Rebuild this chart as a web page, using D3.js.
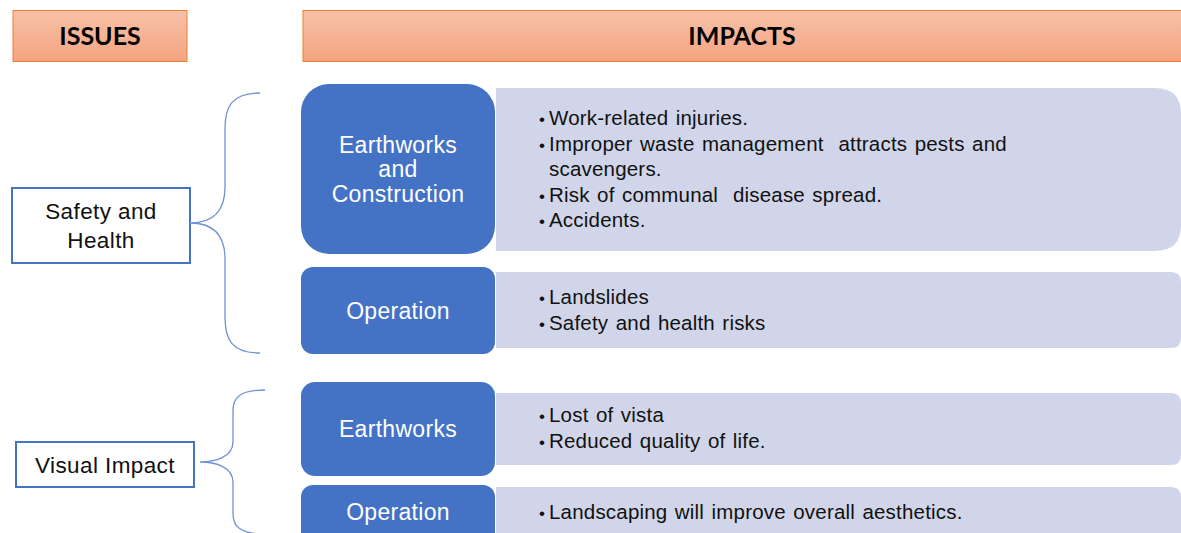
<!DOCTYPE html>
<html>
<head>
<meta charset="utf-8">
<script src="https://cdn.jsdelivr.net/npm/d3@7"></script>
<style>
  body { margin: 0; background: #fff; }
  svg { display: block; }
</style>
</head>
<body>
<svg class="chart"></svg>
<script>
// data
var headers = ["ISSUES", "IMPACTS"];
var issues = [["Safety and", "Health"], ["Visual Impact"]];
var stages = [
  ["Earthworks", "and", "Construction"],
  ["Operation"],
  ["Earthworks"],
  ["Operation"]
];
var impacts = [
  [["Work-related injuries."],
   ["Improper waste management  attracts pests and", "scavengers."],
   ["Risk of communal  disease spread."],
   ["Accidents."]],
  [["Landslides"], ["Safety and health risks"]],
  [["Lost of vista"], ["Reduced quality of life."]],
  [["Landscaping will improve overall aesthetics."]]
];

// layout (positions kept apart from the data)
var width = 1181, height = 533;
var rowBox   = [[84, 254], [267, 354], [382, 476], [485, 580]];   // blue boxes
var rowPanel = [[88, 251], [272, 348], [393, 465], [487, 580]];   // light panels
var boxR   = [28, 12, 14, 12];
var panelR = [26, 10, 10, 10];
var issueBox = [[12, 188, 190, 263], [16, 442, 194, 487]];
var braces = [
  {x0: 260, top: 93, bottom: 353, xv: 225, xm: 190},
  {x0: 265, top: 390, bottom: 534, xv: 233, xm: 200}
];
var font = "'Liberation Sans', Arial, sans-serif";

var svg = d3.select("svg.chart")
            .attr("width", width)
            .attr("height", height);

var defs = svg.append("defs");
var grad = defs.append("linearGradient")
               .attr("id", "hdr")
               .attr("x1", 0).attr("y1", 0).attr("x2", 0).attr("y2", 1);
grad.append("stop").attr("offset", "0%").attr("stop-color", "#F8C1A7");
grad.append("stop").attr("offset", "100%").attr("stop-color", "#F4A481");

// header bars
var hdrX = [[13, 187], [303, 1190]];
var hdr = svg.selectAll("g.hdr")
   .data(headers)
   .enter()
   .append("g")
   .classed("hdr", true);
hdr.append("rect")
   .attr("x", function(d, i){ return hdrX[i][0]; })
   .attr("y", 10.5)
   .attr("width", function(d, i){ return hdrX[i][1] - hdrX[i][0]; })
   .attr("height", 51)
   .attr("fill", "url(#hdr)")
   .attr("stroke", "#ED7D31")
   .attr("stroke-width", 1);
hdr.append("text")
   .text(function(d){ return d; })
   .attr("x", function(d, i){ return i == 0 ? (hdrX[0][0] + hdrX[0][1]) / 2 : 742; })
   .attr("y", 45)
   .attr("text-anchor", "middle")
   .attr("font-family", "Lato, 'Liberation Sans', sans-serif")
   .attr("font-weight", "bold")
   .attr("font-size", 25)
   .attr("fill", "#000");

// light panels with rounded right corners
function panelPath(x0, x1, y0, y1, r){
  return "M" + x0 + "," + y0 +
         "H" + (x1 - r) +
         "Q" + x1 + "," + y0 + " " + x1 + "," + (y0 + r) +
         "V" + (y1 - r) +
         "Q" + x1 + "," + y1 + " " + (x1 - r) + "," + y1 +
         "H" + x0 + "Z";
}
svg.selectAll("path.panel")
   .data(impacts)
   .enter()
   .append("path")
   .classed("panel", true)
   .attr("d", function(d, i){
     return panelPath(496, 1181, rowPanel[i][0], rowPanel[i][1], panelR[i]);
   })
   .attr("fill", "#D0D5E9");

// blue stage boxes
var st = svg.selectAll("g.stage")
   .data(stages)
   .enter()
   .append("g")
   .classed("stage", true);
st.append("rect")
   .attr("x", 301)
   .attr("y", function(d, i){ return rowBox[i][0]; })
   .attr("width", 194)
   .attr("height", function(d, i){ return rowBox[i][1] - rowBox[i][0]; })
   .attr("rx", function(d, i){ return boxR[i]; })
   .attr("fill", "#4472C4");
st.each(function(lines, i){
  var cy = i == 3 ? 512 : (rowBox[i][0] + rowBox[i][1]) / 2;
  var lh = 24.5;
  d3.select(this).selectAll("text")
    .data(lines)
    .enter()
    .append("text")
    .text(function(d){ return d; })
    .attr("x", 398)
    .attr("y", function(d, j){ return cy + (j - (lines.length - 1) / 2) * lh + 8; })
    .attr("text-anchor", "middle")
    .attr("font-family", font)
    .attr("font-size", 23)
    .attr("letter-spacing", 0.3)
    .attr("fill", "#fff");
});

// bullet lists
var bl = svg.selectAll("g.bullets")
   .data(impacts)
   .enter()
   .append("g")
   .classed("bullets", true);
var firstLine = [125, 304, 422, 519];
var lineH = 25.5;
bl.each(function(items, i){
  var g = d3.select(this);
  var y = firstLine[i];
  items.forEach(function(item){
    g.append("text")
     .text("\u2022")
     .attr("x", 539)
     .attr("y", y)
     .attr("font-family", font)
     .attr("font-size", 17)
     .attr("fill", "#111");
    item.forEach(function(line){
      g.append("text")
       .text(line)
       .attr("x", 549)
       .attr("y", y)
       .style("white-space", "pre")
       .attr("font-family", font)
       .attr("font-size", 20.5)
       .attr("letter-spacing", 0.2)
       .attr("word-spacing", 1.5)
       .attr("fill", "#111");
      y += lineH;
    });
  });
});

// issue boxes
var is = svg.selectAll("g.issue")
   .data(issues)
   .enter()
   .append("g")
   .classed("issue", true);
is.append("rect")
   .attr("x", function(d, i){ return issueBox[i][0]; })
   .attr("y", function(d, i){ return issueBox[i][1]; })
   .attr("width", function(d, i){ return issueBox[i][2] - issueBox[i][0]; })
   .attr("height", function(d, i){ return issueBox[i][3] - issueBox[i][1]; })
   .attr("fill", "#fff")
   .attr("stroke", "#4472C4")
   .attr("stroke-width", 2);
is.each(function(lines, i){
  var b = issueBox[i];
  var cx = (b[0] + b[2]) / 2, cy = (b[1] + b[3]) / 2;
  d3.select(this).selectAll("text")
    .data(lines)
    .enter()
    .append("text")
    .text(function(d){ return d; })
    .attr("x", cx)
    .attr("y", function(d, j){ return cy + (j - (lines.length - 1) / 2) * 29 + 8; })
    .attr("text-anchor", "middle")
    .attr("font-family", font)
    .attr("font-size", 22.5)
    .attr("letter-spacing", 0.4)
    .attr("fill", "#111");
});

// curly braces
svg.selectAll("path.brace")
   .data(braces)
   .enter()
   .append("path")
   .classed("brace", true)
   .attr("d", function(b){
     var mid = (b.top + b.bottom) / 2;
     var k = Math.min(36, (mid - b.top) / 3.5);
     var p = d3.path();
     p.moveTo(b.x0, b.top);
     p.bezierCurveTo(b.xv + 6, b.top, b.xv, b.top + k * 0.4, b.xv, b.top + k);
     p.lineTo(b.xv, mid - k);
     p.bezierCurveTo(b.xv, mid - 4, b.xm + 14, mid, b.xm, mid);
     p.bezierCurveTo(b.xm + 14, mid, b.xv, mid + 4, b.xv, mid + k);
     p.lineTo(b.xv, b.bottom - k);
     p.bezierCurveTo(b.xv, b.bottom - k * 0.4, b.xv + 6, b.bottom, b.x0, b.bottom);
     return p.toString();
   })
   .attr("fill", "none")
   .attr("stroke", "#6F93D6")
   .attr("stroke-width", 1.3);
</script>
</body>
</html>
